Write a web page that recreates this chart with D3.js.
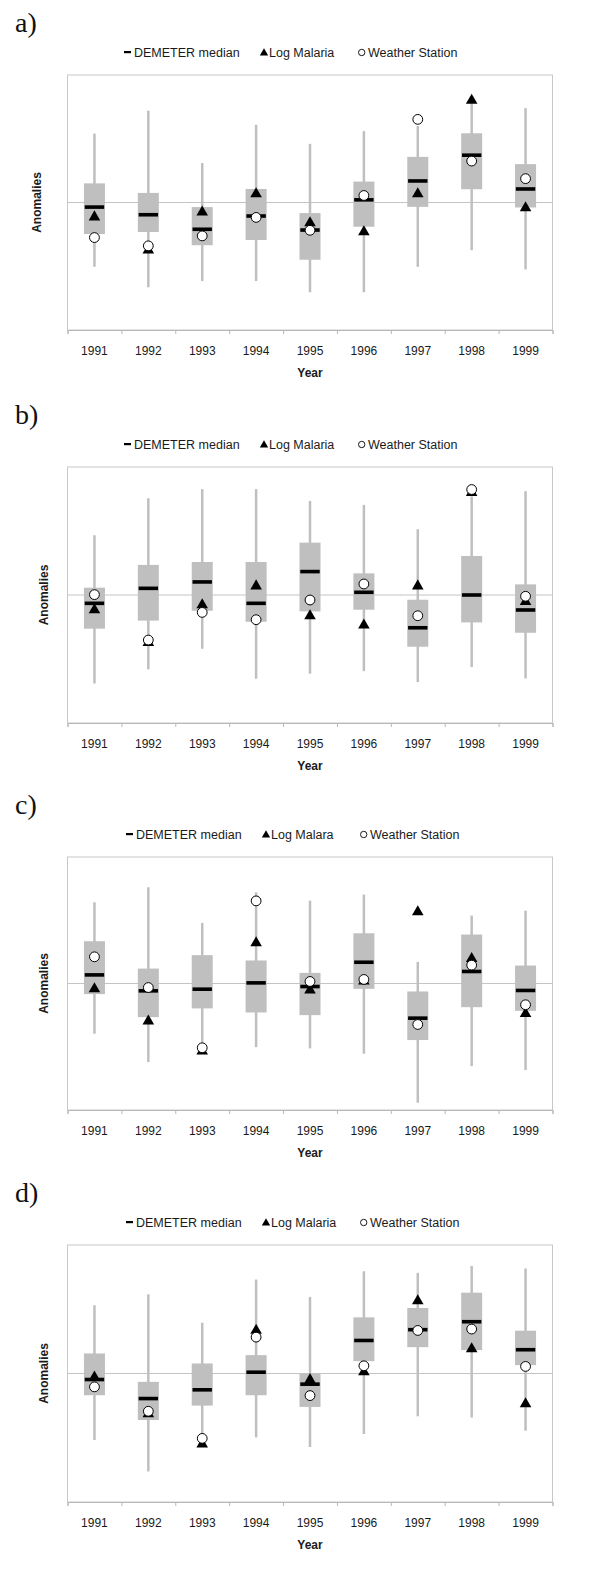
<!DOCTYPE html>
<html>
<head>
<meta charset="utf-8">
<script src="https://cdn.jsdelivr.net/npm/d3@7"></script>
<style>
  body { margin: 0; background: #fff; }
  text { font-family: "Liberation Sans", Arial, sans-serif; fill: #1a1a1a; }
</style>
</head>
<body>
<svg id="chart" width="600" height="1569"></svg>
<script>
// years on the x axis
const years = ["1991", "1992", "1993", "1994", "1995", "1996", "1997", "1998", "1999"];

// panel a
const aHigh = [0.54, 0.72, 0.31, 0.61, 0.46, 0.56, 0.60, 0.79, 0.74];
const aQ3 = [0.15, 0.075, -0.036, 0.106, -0.083, 0.164, 0.358, 0.543, 0.301];
const aMedian = [-0.036, -0.096, -0.21, -0.106, -0.216, 0.021, 0.169, 0.371, 0.106];
const aQ1 = [-0.247, -0.231, -0.335, -0.294, -0.449, -0.19, -0.034, 0.104, -0.039];
const aLow = [-0.504, -0.665, -0.616, -0.616, -0.704, -0.704, -0.504, -0.374, -0.525];
const aMalaria = [-0.114, -0.374, -0.075, 0.068, -0.161, -0.231, 0.068, 0.80, -0.042];
const aStation = [-0.275, -0.34, -0.262, -0.117, -0.218, 0.055, 0.652, 0.325, 0.187];

// panel b
const bHigh = [0.467, 0.756, 0.827, 0.827, 0.735, 0.704, 0.514, 0.77, 0.811];
const bQ3 = [0.057, 0.235, 0.258, 0.258, 0.409, 0.169, -0.037, 0.305, 0.083];
const bMedian = [-0.065, 0.052, 0.102, -0.065, 0.183, 0.021, -0.256, 0.0, -0.117];
const bQ1 = [-0.263, -0.2, -0.123, -0.209, -0.128, -0.115, -0.404, -0.214, -0.295];
const bLow = [-0.691, -0.581, -0.42, -0.654, -0.615, -0.595, -0.68, -0.563, -0.652];
const bMalaria = [-0.117, -0.373, -0.078, 0.07, -0.164, -0.235, 0.07, 0.80, -0.052];
const bStation = [0.003, -0.352, -0.136, -0.193, -0.039, 0.086, -0.162, 0.824, -0.01];

// panel c
const cHigh = [0.642, 0.761, 0.479, 0.721, 0.655, 0.703, 0.171, 0.537, 0.576];
const cQ3 = [0.334, 0.118, 0.224, 0.182, 0.084, 0.397, -0.063, 0.387, 0.142];
const cMedian = [0.068, -0.058, -0.045, 0.005, -0.024, 0.168, -0.274, 0.095, -0.055];
const cQ1 = [-0.084, -0.266, -0.197, -0.229, -0.25, -0.042, -0.447, -0.187, -0.216];
const cLow = [-0.397, -0.621, -0.521, -0.503, -0.513, -0.555, -0.942, -0.653, -0.684];
const cMalaria = [-0.042, -0.297, -0.534, 0.321, -0.053, 0.018, 0.566, 0.197, -0.239];
const cStation = [0.211, -0.032, -0.508, 0.653, 0.016, 0.032, -0.324, 0.145, -0.168];

// panel d
const dHigh = [0.531, 0.616, 0.395, 0.731, 0.596, 0.796, 0.783, 0.837, 0.817];
const dQ3 = [0.156, -0.065, 0.078, 0.143, 0.0, 0.437, 0.51, 0.629, 0.333];
const dMedian = [-0.047, -0.195, -0.127, 0.01, -0.083, 0.257, 0.341, 0.403, 0.185];
const dQ1 = [-0.169, -0.362, -0.25, -0.169, -0.26, 0.096, 0.205, 0.182, 0.065];
const dLow = [-0.518, -0.762, -0.528, -0.497, -0.572, -0.471, -0.333, -0.343, -0.445];
const dMalaria = [-0.029, -0.315, -0.549, 0.335, -0.049, 0.013, 0.564, 0.192, -0.237];
const dStation = [-0.104, -0.294, -0.505, 0.283, -0.172, 0.06, 0.335, 0.346, 0.055];

const panelLabels = ["a)", "b)", "c)", "d)"];
const malariaNames = ["Log Malaria", "Log Malaria", "Log Malara", "Log Malaria"];

const panels = [
  { label: panelLabels[0], malariaName: malariaNames[0], high: aHigh, q3: aQ3, median: aMedian, q1: aQ1, low: aLow, malaria: aMalaria, station: aStation },
  { label: panelLabels[1], malariaName: malariaNames[1], high: bHigh, q3: bQ3, median: bMedian, q1: bQ1, low: bLow, malaria: bMalaria, station: bStation },
  { label: panelLabels[2], malariaName: malariaNames[2], high: cHigh, q3: cQ3, median: cMedian, q1: cQ1, low: cLow, malaria: cMalaria, station: cStation },
  { label: panelLabels[3], malariaName: malariaNames[3], high: dHigh, q3: dQ3, median: dMedian, q1: dQ1, low: dLow, malaria: dMalaria, station: dStation },
];

// layout of each panel (frame top / height, y label x)
const frameTops = [75, 467, 857, 1245];
const frameHeights = [255, 256, 253, 257];
const yLabelX = [41, 48, 48, 48];
const legendShift = [0, 0, 2, 2];

const left = 67.5, right = 552.5;
const grey = "#bfbfbf";

const svg = d3.select("#chart");

const x = d3.scaleBand().domain(years).range([left, right]);
const xEdges = d3.scaleLinear().domain([0, years.length]).range([left, right]);

panels.forEach((p, i) => {
  const top = frameTops[i];
  const bottom = top + frameHeights[i];
  const y = d3.scaleLinear().domain([-1, 1]).range([bottom, top]);
  const g = svg.append("g");

  // panel letter
  g.append("text")
    .attr("x", 15)
    .attr("y", top - 43)
    .style("font-family", '"Liberation Serif", "Times New Roman", serif')
    .style("font-size", "28px")
    .style("fill", "#111")
    .text(p.label);

  // legend
  const lg = g.append("g").attr("transform", `translate(${legendShift[i]},${top - 23})`);
  lg.append("rect").attr("x", 124).attr("y", -1).attr("width", 7).attr("height", 2.2).attr("fill", "#000");
  lg.append("text").attr("x", 134).attr("y", 4.5).style("font-size", "12.5px").text("DEMETER median");
  lg.append("path")
    .attr("d", d3.symbol(d3.symbolTriangle, 30)())
    .attr("transform", "translate(264,1)")
    .attr("fill", "#000");
  lg.append("text").attr("x", 269).attr("y", 4.5).style("font-size", "12.5px").text(p.malariaName);
  lg.append("circle").attr("cx", 361.7).attr("cy", 0.5).attr("r", 3.2)
    .attr("fill", "#fff").attr("stroke", "#000").attr("stroke-width", 0.9);
  lg.append("text").attr("x", 368).attr("y", 4.5).style("font-size", "12.5px").text("Weather Station");

  // frame
  g.append("rect")
    .attr("x", left).attr("y", top)
    .attr("width", right - left).attr("height", bottom - top)
    .attr("fill", "none").attr("stroke", "#c8c8c8").attr("stroke-width", 1);

  // zero line
  g.append("line")
    .attr("x1", left).attr("x2", right)
    .attr("y1", y(0)).attr("y2", y(0))
    .attr("stroke", "#c4c4c4").attr("stroke-width", 1);

  // bottom axis: ticks between categories
  g.append("g")
    .attr("transform", `translate(0,${bottom})`)
    .call(d3.axisBottom(xEdges).tickValues(d3.range(years.length + 1)).tickFormat("").tickSize(4).tickSizeOuter(4))
    .call(a => a.selectAll("line,path").attr("stroke", "#b8b8b8"));

  // category labels
  g.append("g")
    .attr("transform", `translate(0,${bottom})`)
    .call(d3.axisBottom(x).tickSize(0).tickPadding(16.5))
    .call(a => a.select(".domain").remove())
    .call(a => a.selectAll("text")
      .style("font-family", '"Liberation Sans", Arial, sans-serif')
      .style("font-size", "12px")
      .attr("fill", "#1a1a1a"));

  // axis titles
  g.append("text")
    .attr("x", (left + right) / 2)
    .attr("y", bottom + 46.5)
    .attr("text-anchor", "middle")
    .style("font-size", "12px")
    .style("font-weight", "bold")
    .text("Year");

  g.append("text")
    .attr("transform", `translate(${yLabelX[i]},${y(0)}) rotate(-90)`)
    .attr("text-anchor", "middle")
    .style("font-size", "12px")
    .style("font-weight", "bold")
    .text("Anomalies");

  const cx = (d) => x(d) + x.bandwidth() / 2;
  const boxW = x.bandwidth() * 0.39;
  const medW = x.bandwidth() * 0.36;

  // whiskers
  g.selectAll(".whisker")
    .data(years)
    .join("line")
    .attr("class", "whisker")
    .attr("x1", cx).attr("x2", cx)
    .attr("y1", (d, j) => y(p.low[j]))
    .attr("y2", (d, j) => y(p.high[j]))
    .attr("stroke", grey).attr("stroke-width", 2.5);

  // boxes
  g.selectAll(".box")
    .data(years)
    .join("rect")
    .attr("class", "box")
    .attr("x", (d) => cx(d) - boxW / 2)
    .attr("width", boxW)
    .attr("y", (d, j) => y(p.q3[j]))
    .attr("height", (d, j) => y(p.q1[j]) - y(p.q3[j]))
    .attr("fill", grey);

  // medians
  g.selectAll(".median")
    .data(years)
    .join("rect")
    .attr("class", "median")
    .attr("x", (d) => cx(d) - medW / 2)
    .attr("width", medW)
    .attr("y", (d, j) => y(p.median[j]) - 1.8)
    .attr("height", 3.6)
    .attr("fill", "#000");

  // log malaria triangles
  g.selectAll(".malaria")
    .data(years)
    .join("path")
    .attr("class", "malaria")
    .attr("d", d3.symbol(d3.symbolTriangle, 58)())
    .attr("transform", (d, j) => `translate(${cx(d)},${y(p.malaria[j])})`)
    .attr("fill", "#000");

  // weather station circles
  g.selectAll(".station")
    .data(years)
    .join("circle")
    .attr("class", "station")
    .attr("cx", cx)
    .attr("cy", (d, j) => y(p.station[j]))
    .attr("r", 4.9)
    .attr("fill", "#fff")
    .attr("stroke", "#000")
    .attr("stroke-width", 1);
});
</script>
</body>
</html>
